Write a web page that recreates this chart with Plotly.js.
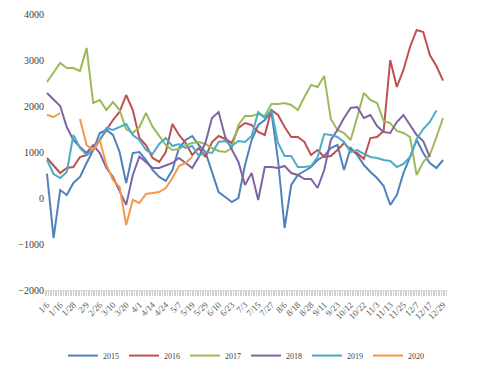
<!DOCTYPE html>
<html>
<head>
<meta charset="utf-8">
<script src="https://cdn.plot.ly/plotly-3.0.1.min.js"></script>
<style>html,body{margin:0;padding:0;background:#fff;}#chart{width:484px;height:373px;}</style>
</head>
<body>
<div id="chart"></div>
<script>
// Tick labels (one every 8 trading days)
const tickLabels = ['1/6','1/16','1/28','2/9','2/26','3/10','3/20','4/1','4/14','4/24','5/7','5/19','5/29','6/10','6/23','7/3','7/15','7/27','8/6','8/18','8/28','9/11','9/23','10/12','10/22','11/3','11/13','11/25','12/7','12/17','12/29'];
const labelStep = 8;   // trading days between labels
const sampleStep = 4;  // trading days between sampled values

const seriesNames = ['2015','2016','2017','2018','2019','2020'];

const v2015 = [530,-870,174,65,326,457,761,1043,1413,1478,1370,1000,326,978,1000,826,609,457,370,609,1087,1261,1348,1152,1000,543,130,22,-87,0,717,1261,1587,1696,1870,826,-652,283,500,587,674,826,913,1087,1152,609,1087,935,717,565,435,261,-152,65,543,891,1261,978,761,652,826];
const v2016 = [870,717,543,652,674,891,935,1043,1261,1478,1696,1870,2239,1913,1304,1152,870,783,1000,1609,1370,1196,935,1087,891,1217,1348,1283,1196,1522,1630,1587,1435,1370,1913,1804,1543,1326,1326,1217,935,1043,891,913,1043,1196,1043,978,848,1304,1326,1457,3000,2413,2783,3283,3652,3609,3109,2870,2550];
const v2017 = [2522,2739,2935,2826,2826,2761,3261,2065,2130,1913,2087,1913,1500,1413,1543,1848,1550,1350,1150,1043,1065,1152,1196,1217,1174,1087,1022,1000,1087,1587,1783,1783,1826,1783,2043,2043,2065,2022,1913,2196,2457,2413,2652,1717,1478,1413,1261,1761,2283,2130,2065,1674,1630,1457,1413,1326,500,783,935,1326,1739];
const v2018 = [2283,2130,2000,1543,1261,1109,978,1152,978,652,457,150,-150,500,900,783,652,652,700,761,870,761,652,891,1196,1739,1870,1326,1043,783,283,543,-43,674,674,652,696,543,500,413,413,217,609,1261,1478,1739,1957,1978,1739,1804,1565,1435,1413,1652,1804,1587,1370,1239,891];
const v2019 = [826,522,435,565,1370,1087,935,1043,1261,1522,1478,1543,1609,1370,1261,1043,957,1174,1304,1130,1174,1087,1130,913,1000,978,1217,1239,1130,1239,1217,1348,1870,1739,1913,1196,913,913,674,674,696,891,1391,1370,1326,1217,1000,1043,957,891,870,826,804,674,739,891,1283,1500,1652,1900];
const v2020 = [1804,1761,1848,null,null,1717,1152,1043,1261,717,391,239,-587,-43,-109,87,109,130,217,435,696,761,891];

const seriesValues = [v2015, v2016, v2017, v2018, v2019, v2020];
const colors = ['#4F81BD','#C0504D','#9BBB59','#8064A2','#4BACC6','#F79646'];

const traces = seriesValues.map((vals, s) => ({
  type: 'scatter',
  mode: 'lines',
  name: seriesNames[s],
  x: vals.map((_, i) => i * sampleStep),
  y: vals,
  connectgaps: false,
  line: {color: colors[s], width: 2},
  hoverinfo: 'skip'
}));

const layout = {
  width: 484,
  height: 373,
  margin: {l: 45, r: 37, t: 14, b: 83, autoexpand: false},
  paper_bgcolor: '#ffffff',
  plot_bgcolor: '#ffffff',
  font: {family: '"Liberation Serif", "DejaVu Serif", serif', color: '#404040'},
  showlegend: true,
  xaxis: {
    range: [-1.2, 242.4],
    automargin: false,
    tickvals: tickLabels.map((_, i) => i * labelStep),
    ticktext: tickLabels,
    tickangle: -45,
    tickfont: {size: 9, color: '#595959'},
    showgrid: false,
    zeroline: false,
    showline: true,
    linecolor: '#d9d9d9',
    linewidth: 1,
    ticks: 'outside',
    ticklen: 5,
    tickcolor: '#d0d0d0',
    minor: {ticks: 'outside', ticklen: 5, tickcolor: '#d0d0d0', dtick: 1, tick0: 0, showgrid: false}
  },
  yaxis: {
    range: [-2000, 4000],
    automargin: false,
    tickvals: [-2000,-1000,0,1000,2000,3000,4000],
    tickfont: {size: 10, color: '#404040'},
    showgrid: false,
    zeroline: false,
    showline: false,
    ticks: ''
  },
  legend: {
    orientation: 'h',
    x: 0.5,
    xanchor: 'center',
    y: -0.185,
    yanchor: 'top',
    font: {size: 8, color: '#404040'},
    itemwidth: 30,
    tracegroupgap: 0
  }
};

Plotly.newPlot('chart', traces, layout, {staticPlot: true, displayModeBar: false});
</script>
</body>
</html>
